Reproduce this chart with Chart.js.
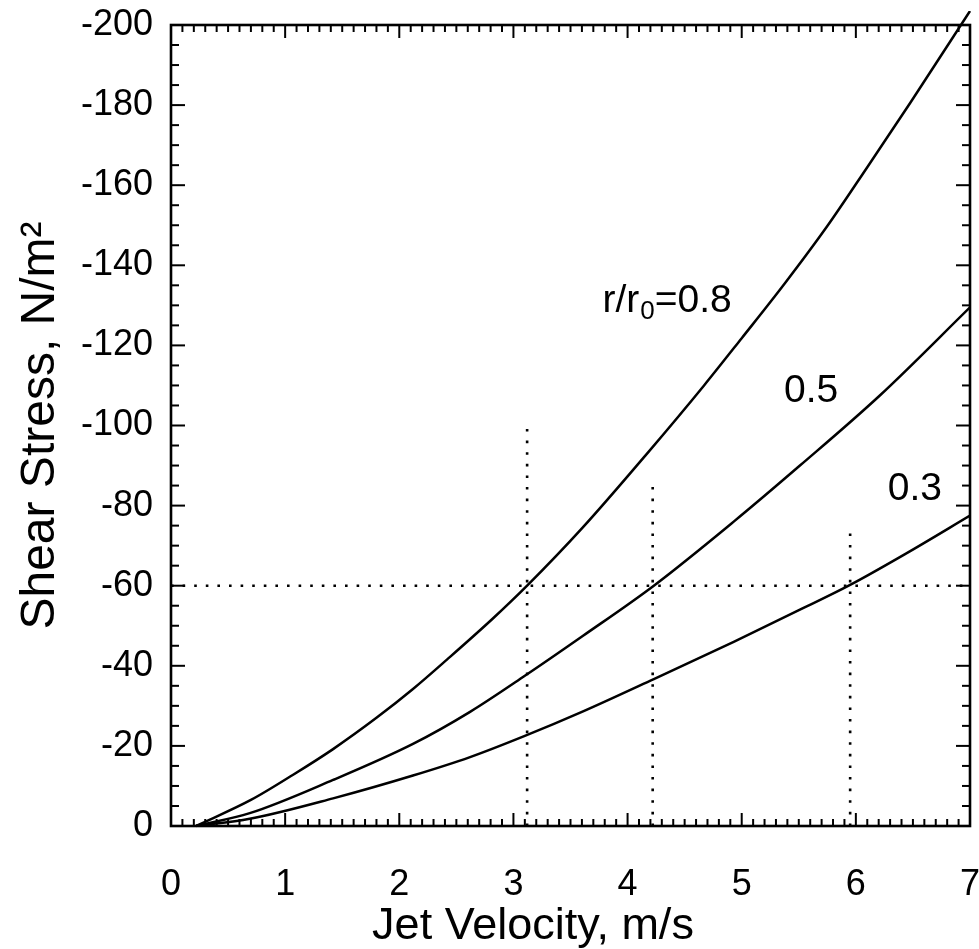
<!DOCTYPE html>
<html><head><meta charset="utf-8">
<script src="https://cdn.jsdelivr.net/npm/chart.js@4.4.1/dist/chart.umd.min.js"></script>
<style>html,body{margin:0;padding:0;background:#fff}#wrap{width:979px;height:949px}</style>
</head><body><div id="wrap"><canvas id="c" width="979" height="949"></canvas></div>
<script>
// ---- data ----
const xLabelTicks = [0, 1, 2, 3, 4, 5, 6, 7];
const yLabelTicks = [0, -20, -40, -60, -80, -100, -120, -140, -160, -180, -200];

const x08 = [0.22, 0.7, 1.07, 1.42, 1.8, 2.12, 2.42, 2.82, 3.12, 3.6, 4.18, 4.67, 5.0, 5.37, 5.75, 6.1, 6.48, 7.0];
const y08 = [0, -6.5, -12.8, -19.2, -27, -34.2, -41.6, -51.8, -60, -74.3, -93.3, -110, -121.8, -135.2, -149.8, -164.5, -180.7, -203.5];

const x05 = [0.22, 0.69, 1.42, 2.12, 2.62, 3.1, 3.61, 4.23, 4.93, 5.51, 6.21, 7.0];
const y05 = [0, -3.2, -11.5, -20.5, -28.5, -37.5, -47.5, -60, -76, -90, -107.5, -129.5];

const x03 = [0.22, 0.69, 1.42, 2.12, 2.62, 3.1, 3.6, 4.23, 4.93, 5.51, 5.95, 6.45, 7.0];
const y03 = [0, -1.8, -6.9, -12.6, -17.2, -22.5, -28.5, -36.7, -46.0, -54.0, -60.2, -68.2, -77.5];

const refLevel = -60;             // horizontal dotted line
const refXs = [3.12, 4.22, 5.95];  // vertical dotted lines
const refTops = [-100, -85, -74];

const curveNames = ['r/r0=0.8', '0.5', '0.3'];
const labelX = [3.78, 5.37, 6.28];
const labelY = [-128.3, -105.9, -81.4];

const xTitle = 'Jet Velocity, m/s';
const yTitle = 'Shear Stress, N/m\u00B2';

// ---- build ----
const FONT = '"Liberation Sans", Arial, Helvetica, sans-serif';
const pts = (xs, ys) => xs.map((v, i) => ({x: v, y: ys[i]}));

const curveStyle = {borderColor: '#000', borderWidth: 2.5, pointRadius: 0, fill: false,
  cubicInterpolationMode: 'monotone', showLine: true};
const dotStyle = {borderColor: '#000', borderWidth: 2.6, borderDash: [2.6, 9], pointRadius: 0,
  fill: false, showLine: true, tension: 0};

const datasets = [
  Object.assign({label: curveNames[0], data: pts(x08, y08), clip: {left: 4, top: 14, right: 10, bottom: 4}}, curveStyle),
  Object.assign({label: curveNames[1], data: pts(x05, y05)}, curveStyle),
  Object.assign({label: curveNames[2], data: pts(x03, y03)}, curveStyle),
  Object.assign({label: 'ref-h', data: [{x: xLabelTicks[0], y: refLevel}, {x: xLabelTicks[xLabelTicks.length - 1], y: refLevel}]}, dotStyle),
];
refXs.forEach((rx, i) => datasets.push(Object.assign({label: 'ref-v' + i,
  data: [{x: rx, y: 0}, {x: rx, y: refTops[i]}]}, dotStyle)));

const framePlugin = {
  id: 'frame',
  afterDatasetsDraw(chart) {
    const {ctx, chartArea: a, scales: {x, y}} = chart;
    ctx.save();
    ctx.strokeStyle = '#000';
    ctx.lineCap = 'butt';
    const line = (x1, y1, x2, y2) => { ctx.beginPath(); ctx.moveTo(x1, y1); ctx.lineTo(x2, y2); ctx.stroke(); };
    ctx.lineWidth = 2;
    // x minor ticks every 0.1, major at integers (inward, top & bottom)
    for (let i = 0; i <= 70; i++) {
      const px = x.getPixelForValue(i / 10);
      const L = (i % 10 === 0) ? 13 : 7;
      line(px, a.bottom, px, a.bottom - L);
      line(px, a.top, px, a.top + L);
    }
    // y minor ticks every 5, major every 20 (inward, left & right)
    for (let v = 0; v >= -200; v -= 5) {
      const py = y.getPixelForValue(v);
      const L = (v % 20 === 0) ? 14 : 8;
      line(a.left, py, a.left + L, py);
      line(a.right, py, a.right - L, py);
    }
    ctx.lineWidth = 2.6;
    ctx.strokeRect(a.left, a.top, a.right - a.left, a.bottom - a.top);

    // curve labels
    ctx.fillStyle = '#000';
    ctx.textBaseline = 'alphabetic';
    ctx.textAlign = 'left';
    const big = '39px ' + FONT, small = '26px ' + FONT;
    labelX.forEach((lx, i) => {
      let px = x.getPixelForValue(lx);
      const py = y.getPixelForValue(labelY[i]);
      const t = curveNames[i];
      if (t.indexOf('r0') >= 0) {
        const parts = ['r/r', '0', '=0.8'];
        ctx.font = big; ctx.fillText(parts[0], px, py); px += ctx.measureText(parts[0]).width;
        ctx.font = small; ctx.fillText(parts[1], px + 1, py + 7); px += ctx.measureText(parts[1]).width + 1;
        ctx.font = big; ctx.fillText(parts[2], px, py);
      } else {
        ctx.font = big; ctx.fillText(t, px, py);
      }
    });
    ctx.restore();
  }
};

new Chart(document.getElementById('c'), {
  type: 'scatter',
  data: {datasets},
  options: {
    responsive: false,
    devicePixelRatio: 1,
    animation: false,
    events: [],
    layout: {padding: {left: 0, right: 9, top: 25, bottom: 0}},
    plugins: {legend: {display: false}, tooltip: {enabled: false}, title: {display: false}},
    scales: {
      x: {
        type: 'linear', min: 0, max: 7,
        afterBuildTicks: (s) => { s.ticks = xLabelTicks.map(v => ({value: v})); },
        afterFit: (s) => { s.height = 123; s.paddingLeft = 0; s.paddingRight = 0; },
        grid: {display: false, drawTicks: false},
        border: {display: false},
        ticks: {color: '#000', padding: 37, font: {family: FONT, size: 36}, maxRotation: 0, autoSkip: false,
          callback: (v) => String(v)},
        // trailing spaces shift the centred title left, as in the reference
        title: {display: true, text: xTitle + '      ', color: '#000', font: {family: FONT, size: 45}, padding: {top: 0, bottom: -5}}
      },
      y: {
        type: 'linear', min: -200, max: 0, reverse: true,
        afterBuildTicks: (s) => { s.ticks = yLabelTicks.map(v => ({value: v})); },
        afterFit: (s) => { s.width = 171; s.paddingTop = 0; s.paddingBottom = 0; },
        grid: {display: false, drawTicks: false},
        border: {display: false},
        ticks: {color: '#000', padding: 18, font: {family: FONT, size: 36}, autoSkip: false,
          callback: (v) => String(v)},
        title: {display: true, text: yTitle, color: '#000', font: {family: FONT, size: 48}, padding: {top: 12, bottom: 0}}
      }
    }
  },
  plugins: [framePlugin]
});
</script></body></html>
